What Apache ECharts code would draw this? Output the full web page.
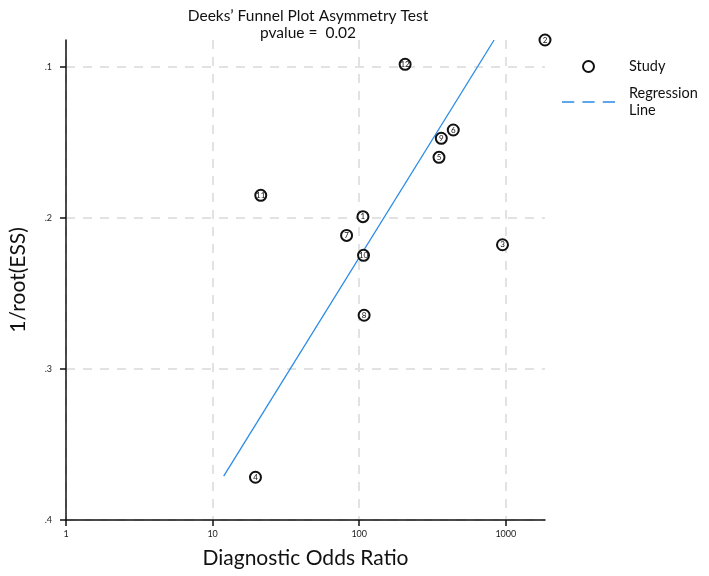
<!DOCTYPE html>
<html>
<head>
<meta charset="utf-8">
<script src="https://cdn.jsdelivr.net/npm/echarts@6/dist/echarts.min.js"></script>
<style>
  html, body { margin: 0; padding: 0; background: #fff; }
  #deeks { width: 709px; height: 576px; }
</style>
</head>
<body>
<div id="deeks"></div>
<script>
// study points
const studyIds = [1, 2, 3, 4, 5, 6, 7, 8, 9, 10, 11, 12];
const diagOddsRatio = [106, 1850, 949, 19.6, 350, 438, 82, 108, 363, 107, 21.3, 205.6];
const invRootEss = [0.1991, 0.0821, 0.2177, 0.3717, 0.1598, 0.1417, 0.2115, 0.2644, 0.1472, 0.2247, 0.185, 0.0982];

// regression line end points
const regX = [11.9, 832];
const regY = [0.3709, 0.0821];

const xTicks = [1, 10, 100, 1000];
const yTicks = [0.1, 0.2, 0.3, 0.4];
const FONT = 'Lato';

let points = studyIds.map((id, i) => [diagOddsRatio[i], invRootEss[i], id]);
let regLine = regX.map((x, i) => [x, regY[i]]);

const myChart = echarts.init(document.getElementById('deeks'));
const option = {
  animation: false,
  title: {
    text: 'Deeks\u2019 Funnel Plot Asymmetry Test\npvalue =  0.02',
    left: 303,
    textAlign: 'center',
    top: 2,
    textStyle: { fontFamily: FONT, fontSize: 15.5, fontWeight: 'normal', color: '#111', lineHeight: 17 }
  },
  legend: {
    orient: 'vertical',
    left: 557,
    top: 53,
    itemWidth: 53,
    itemHeight: 11,
    itemGap: 10,
    symbolKeepAspect: true,
    textStyle: { fontFamily: FONT, fontSize: 14.5, color: '#111', padding: [0, 0, 0, 9], lineHeight: 17 },
    formatter: function (name) {
      return name === 'Regression Line' ? 'Regression\nLine' : name;
    },
    data: [
      { name: 'Study', icon: 'circle', itemStyle: { color: '#fff', borderColor: '#111', borderWidth: 2 } },
      {
        name: 'Regression Line',
        icon: 'path://M0,0h12v1.5h-12z M20,0h12v1.5h-12z M40,0h12v1.5h-12z',
        itemStyle: { color: '#2a8be8' }
      }
    ]
  },
  grid: { left: 64, right: 164, top: 40, bottom: 56 },
  xAxis: {
    type: 'log',
    logBase: 10,
    min: 1,
    max: 1850,
    name: 'Diagnostic Odds Ratio',
    nameLocation: 'middle',
    nameGap: 28,
    nameTextStyle: { fontFamily: FONT, fontSize: 21, color: '#111' },
    axisLine: { lineStyle: { color: '#111', width: 1.5 } },
    axisTick: { length: 6, customValues: xTicks, lineStyle: { color: '#111', width: 1.5 } },
    axisLabel: {
      fontFamily: FONT, fontSize: 9, color: '#222', margin: 10,
      customValues: xTicks,
      formatter: function (v) { return String(Math.round(v)); }
    },
    splitLine: { show: true, lineStyle: { color: '#e2e2e2', width: 2, type: [9, 8] } }
  },
  yAxis: {
    type: 'value',
    inverse: true,
    min: 0.0821,
    max: 0.4,
    name: '1/root(ESS)',
    nameLocation: 'middle',
    nameGap: 37,
    nameTextStyle: { fontFamily: FONT, fontSize: 21, color: '#111' },
    axisLine: { show: true, lineStyle: { color: '#111', width: 1.5 } },
    axisTick: { show: true, length: 6, customValues: yTicks, lineStyle: { color: '#111', width: 1.5 } },
    axisLabel: {
      fontFamily: FONT, fontSize: 9, color: '#222', margin: 14,
      customValues: yTicks,
      formatter: function (v) { return v.toFixed(1).replace('0.', '.'); }
    },
    splitLine: { show: true, lineStyle: { color: '#e2e2e2', width: 2, type: [9, 8] } }
  },
  series: [
    {
      name: 'Regression Line',
      type: 'line',
      data: regLine,
      symbol: 'none',
      lineStyle: { color: '#2a8be8', width: 1.3 },
      z: 2
    },
    {
      name: 'Study',
      type: 'scatter',
      data: points,
      symbol: 'circle',
      symbolSize: 11,
      itemStyle: { color: '#fff', borderColor: '#111', borderWidth: 2, opacity: 1 },
      label: {
        show: true,
        position: 'inside',
        fontFamily: FONT,
        fontSize: 8,
        color: '#111',
        formatter: function (p) { return p.value[2]; }
      },
      z: 3
    }
  ]
};
myChart.setOption(option, true);
</script>
</body>
</html>
